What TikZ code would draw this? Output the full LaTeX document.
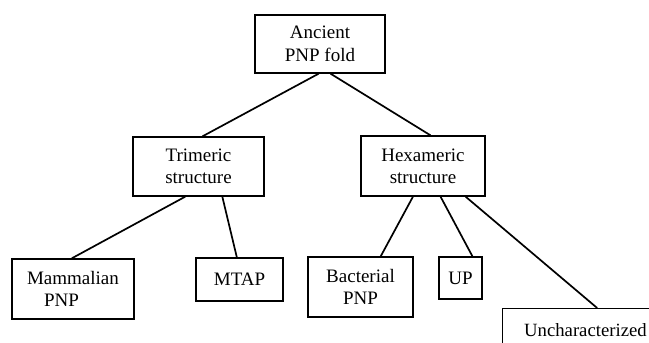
\documentclass[tikz,border=0pt]{standalone}
\usepackage{fontspec}
\setmainfont{Liberation Serif}
\usetikzlibrary{calc}
\begin{document}
\begin{tikzpicture}[x=1pt,y=-1pt,
  box/.style={draw, line width=1.3pt, inner sep=0pt, align=center,
    font=\fontsize{19}{22}\selectfont},
  link/.style={line width=1.7pt}]
\useasboundingbox (0,0) rectangle (649,343);
\clip (0,0) rectangle (649,343);
\node[box, minimum width=130pt, minimum height=58pt] (anc) at (320,44) {Ancient\\[1pt]PNP fold};
\node[box, minimum width=131pt, minimum height=59pt] (tri) at (198.5,166.5) {Trimeric\\structure};
\node[box, minimum width=124pt, minimum height=60pt] (hex) at (423,166) {Hexameric\\structure};
\node[box, minimum width=122pt, minimum height=60pt, align=left] (mam) at (73,289) {Mammalian\\\hspace{17pt}PNP};
\node[box, minimum width=87pt, minimum height=43pt] (mtap) at (239.5,279.5) {MTAP};
\node[box, minimum width=105pt, minimum height=60pt] (bac) at (360.5,287) {Bacterial\\PNP};
\node[box, minimum width=43pt, minimum height=42pt] (up) at (460.5,278) {UP};
\node[box, minimum width=160pt, minimum height=60pt, anchor=north west] (unc) at (502,308) {};
\node[anchor=base west, inner sep=0pt, font=\fontsize{18.7}{22}\selectfont] (unctext) at (524,336) {Uncharacterized};
\draw[link] ($(anc.south west)!0.49!(anc.south east)$) -- ($(tri.north west)!0.53!(tri.north east)$);
\draw[link] ($(anc.south west)!0.58!(anc.south east)$) -- ($(hex.north west)!0.56!(hex.north east)$);
\draw[link] ($(tri.south west)!0.40!(tri.south east)$) -- ($(mam.north west)!0.49!(mam.north east)$);
\draw[link] ($(tri.south west)!0.68!(tri.south east)$) -- ($(mtap.north west)!0.47!(mtap.north east)$);
\draw[link] ($(hex.south west)!0.42!(hex.south east)$) -- ($(bac.north west)!0.69!(bac.north east)$);
\draw[link] ($(hex.south west)!0.64!(hex.south east)$) -- ($(up.north west)!0.77!(up.north east)$);
\draw[link] ($(hex.south west)!0.84!(hex.south east)$) -- ($(unc.north west)!0.59!(unc.north east)$);
\end{tikzpicture}
\end{document}
